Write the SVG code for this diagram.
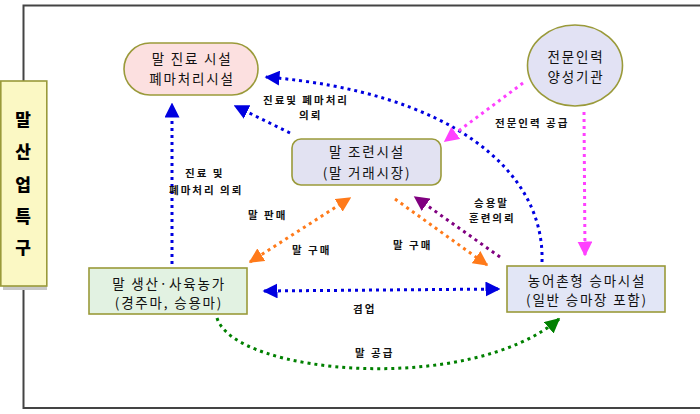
<svg xmlns="http://www.w3.org/2000/svg" width="700" height="414" viewBox="0 0 700 414">
<defs>
<style>
.n{font-family:"Noto Sans CJK KR","Noto Sans",sans-serif;font-size:13.5px;letter-spacing:1.8px;fill:#111;text-anchor:middle}
.l{font-family:"Noto Sans CJK KR","Noto Sans",sans-serif;font-size:10.5px;letter-spacing:2px;font-weight:bold;fill:#111}
.s{font-family:"Noto Sans CJK KR","Noto Sans",sans-serif;font-size:17px;font-weight:900;fill:#000;text-anchor:middle}
.box{stroke:#9a9a3a;stroke-width:1.6}
.c{fill:none;stroke-width:3;stroke-dasharray:3 4}
</style>
<marker id="ab" viewBox="0 0 10 10" refX="9" refY="5" markerWidth="5" markerHeight="5" orient="auto-start-reverse" markerUnits="strokeWidth"><path d="M0,0 L10,5 L0,10 z" fill="#0000e0"/></marker>
<marker id="ao" viewBox="0 0 10 10" refX="9" refY="5" markerWidth="5" markerHeight="5" orient="auto-start-reverse" markerUnits="strokeWidth"><path d="M0,0 L10,5 L0,10 z" fill="#ff7a1a"/></marker>
<marker id="ap" viewBox="0 0 10 10" refX="9" refY="5" markerWidth="5" markerHeight="5" orient="auto-start-reverse" markerUnits="strokeWidth"><path d="M0,0 L10,5 L0,10 z" fill="#800080"/></marker>
<marker id="am" viewBox="0 0 10 10" refX="9" refY="5" markerWidth="5" markerHeight="5" orient="auto-start-reverse" markerUnits="strokeWidth"><path d="M0,0 L10,5 L0,10 z" fill="#ff40ff"/></marker>
<marker id="ag" viewBox="0 0 10 10" refX="9" refY="5" markerWidth="5" markerHeight="5" orient="auto-start-reverse" markerUnits="strokeWidth"><path d="M0,0 L10,5 L0,10 z" fill="#008000"/></marker>
</defs>
<rect width="700" height="414" fill="#fff"/>
<path d="M702,5.5 H23.5 V408 H702" fill="none" stroke="#444" stroke-width="2"/>

<g id="side">
<rect x="3" y="84" width="44" height="206" fill="#c8c8c8"/>
<rect x="0.8" y="81" width="46" height="205" fill="#fbf8c4" class="box"/>
<text class="s" x="23" y="126">말</text>
<text class="s" x="23" y="158">산</text>
<text class="s" x="23" y="191">업</text>
<text class="s" x="23" y="223">특</text>
<text class="s" x="23" y="254">구</text>
</g>

<g id="connectors">
<path class="c" stroke="#0000e0" d="M542,262 C545,170 450,92 266,77" marker-end="url(#ab)"/>
<path class="c" stroke="#0000e0" d="M290,133 L235,106" marker-end="url(#ab)"/>
<path class="c" stroke="#0000e0" d="M172,264 L172,104" marker-end="url(#ab)"/>
<path class="c" stroke="#0000e0" d="M264,291 L499,289" marker-start="url(#ab)" marker-end="url(#ab)"/>
<path class="c" stroke="#ff7a1a" d="M250,262 L350,198" marker-start="url(#ao)" marker-end="url(#ao)"/>
<path class="c" stroke="#ff7a1a" d="M395,199 L487,265" marker-end="url(#ao)"/>
<path class="c" stroke="#800080" d="M500,257 L415,197" marker-end="url(#ap)"/>
<path class="c" stroke="#ff40ff" d="M523,83 L445,141" marker-end="url(#am)"/>
<path class="c" stroke="#ff40ff" d="M584,112 L585,255" marker-end="url(#am)"/>
<path class="c" stroke="#008000" d="M217,318 C235,375 470,395 559,319" marker-end="url(#ag)"/>
</g>

<g id="labels">
<text class="l" x="263" y="104">진료및 폐마처리</text>
<text class="l" x="299" y="119">의뢰</text>
<text class="l" x="185" y="177">진료 및</text>
<text class="l" x="169" y="194">폐마처리 의뢰</text>
<text class="l" x="248" y="219">말 판매</text>
<text class="l" x="292" y="254">말 구매</text>
<text class="l" x="393" y="249">말 구매</text>
<text class="l" x="474" y="207">승용말</text>
<text class="l" x="469" y="222">훈련의뢰</text>
<text class="l" x="495" y="127">전문인력 공급</text>
<text class="l" x="353" y="313">겸업</text>
<text class="l" x="355" y="357">말 공급</text>
</g>

<g id="n1">
<rect x="124" y="43" width="134" height="52" rx="26" ry="26" fill="#fce0e0" class="box"/>
<text class="n" x="192" y="64">말 진료 시설</text>
<text class="n" x="192" y="84">폐마처리시설</text>
</g>
<g id="n2">
<ellipse cx="575" cy="65.5" rx="47.5" ry="40.5" fill="#e2e2f4" class="box"/>
<text class="n" x="576" y="62">전문인력</text>
<text class="n" x="576" y="82">양성기관</text>
</g>
<g id="n3">
<rect x="292" y="139" width="149" height="46" rx="9" ry="9" fill="#e2e2f2" class="box"/>
<text class="n" x="367" y="157">말 조련시설</text>
<text class="n" x="367" y="178">(말 거래시장)</text>
</g>
<g id="n4">
<rect x="89" y="268" width="158" height="46" fill="#e2f2e2" class="box"/>
<text class="n" x="169" y="289">말 생산·사육농가</text>
<text class="n" x="169" y="308">(경주마, 승용마)</text>
</g>
<g id="n5">
<rect x="507" y="266" width="158" height="46" fill="#e2e6f6" class="box"/>
<text class="n" x="587" y="286">농어촌형 승마시설</text>
<text class="n" x="587" y="305">(일반 승마장 포함)</text>
</g>
</svg>
